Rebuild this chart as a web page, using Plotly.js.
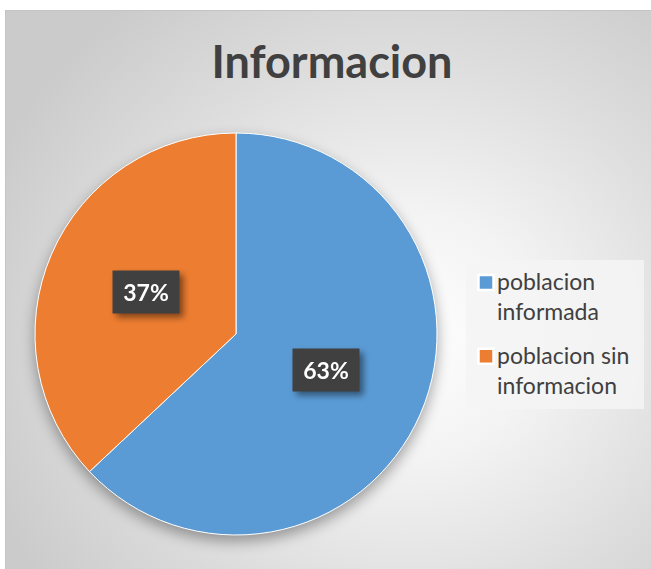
<!DOCTYPE html>
<html>
<head>
<meta charset="utf-8">
<script src="https://cdn.plot.ly/plotly-3.0.1.min.js"></script>
<style>
  html, body { margin:0; padding:0; background:#ffffff; }
  #bg { position:absolute; left:5px; top:10px; width:646px; height:559px; box-sizing:border-box;
        border-left:1px solid #c4c4c4; border-top:1px solid #c4c4c4;
        background: radial-gradient(ellipse 70% 75% at 62% 58%, #ffffff 0%, #f3f3f3 30%, #dedede 65%, #cbcbcb 100%); }
  #chart { position:absolute; left:0; top:0; width:651px; height:569px; }
  #chart .pielayer .trace { filter: drop-shadow(0px 6px 7px rgba(0,0,0,0.35)); }
  #chart g.annotation { filter: drop-shadow(4px 4px 3px rgba(0,0,0,0.45)); }
  #chart .legend .legendtext { transform: translateX(-9px); }
</style>
</head>
<body>
<div id="bg"></div>
<div id="chart"></div>
<script>
const categories = ["poblacion<br>informada", "poblacion sin<br>informacion"];
const values = [63, 37];
const colors = ["#5B9BD5", "#ED7D31"];
const chartTitle = "Informacion";

const W = 651, H = 569;
// pie domain (paper fractions)
const dom = { x: [35 / W, 437 / W], y: [1 - 535 / H, 1 - 133 / H] };

const trace = {
  type: "pie",
  labels: categories,
  values: values,
  marker: { colors: colors, line: { color: "#ffffff", width: 1 } },
  sort: false,
  direction: "clockwise",
  rotation: 0,
  textinfo: "none",
  hoverinfo: "label+percent",
  domain: dom
};

// data labels placed at half radius along each slice's mid-angle
const total = values.reduce((a, b) => a + b, 0);
const cx = (dom.x[0] + dom.x[1]) / 2 * W;
const cy = (1 - (dom.y[0] + dom.y[1]) / 2) * H;
const r = Math.min((dom.x[1] - dom.x[0]) * W, (dom.y[1] - dom.y[0]) * H) / 2;
let cum = 0;
const annotations = values.map(v => {
  const mid = (cum + v / 2) / total * 2 * Math.PI;
  cum += v;
  const px = cx + 0.49 * r * Math.sin(mid);
  const py = cy - 0.49 * r * Math.cos(mid);
  return {
    xref: "paper", yref: "paper",
    x: px / W, y: 1 - (py - 3) / H,
    xanchor: "center", yanchor: "middle",
    text: "<b>" + Math.round(v / total * 100) + "%</b>",
    showarrow: false,
    font: { family: "Lato, sans-serif", size: 23, color: "#ffffff" },
    bgcolor: "#404040",
    width: 64, height: 40
  };
});

const layout = {
  width: W, height: H,
  margin: { l: 0, r: 0, t: 0, b: 0 },
  paper_bgcolor: "rgba(0,0,0,0)",
  plot_bgcolor: "rgba(0,0,0,0)",
  font: { family: "Lato, sans-serif", color: "#404040" },
  title: {
    text: "<b>" + chartTitle + "</b>",
    font: { family: "Lato, sans-serif", size: 45, color: "#404040" },
    x: 332 / W, xanchor: "center",
    y: 1 - 62 / H, yanchor: "middle"
  },
  showlegend: true,
  legend: {
    x: 466 / W, y: 1 - 260 / H, xanchor: "left", yanchor: "top",
    bgcolor: "rgba(244,244,244,0.85)",
    borderwidth: 0,
    font: { family: "Lato, sans-serif", size: 23, color: "#404040" },
    itemsizing: "constant",
    traceorder: "normal"
  },
  annotations: annotations
};

Plotly.newPlot("chart", [trace], layout, { displayModeBar: false, staticPlot: true }).then(gd => {
  // add extra spacing between legend entries (Excel-style gap)
  const gap = 11;
  const items = gd.querySelectorAll(".legend g.traces");
  items.forEach((g, i) => {
    if (i === 0) return;
    const t = g.getAttribute("transform") || "";
    const m = t.match(/translate\(\s*([-\d.]+)[ ,]+([-\d.]+)\s*\)/);
    if (m) g.setAttribute("transform", "translate(" + m[1] + "," + (parseFloat(m[2]) + gap * i) + ")");
  });
  const bg = gd.querySelector(".legend rect.bg");
  if (bg) bg.setAttribute("height", parseFloat(bg.getAttribute("height")) + gap * (items.length - 1) + 2);
  // larger square markers aligned with the first text line
  gd.querySelectorAll(".legend .legendpoints path").forEach(p => {
    const t = p.getAttribute("transform") || "";
    p.setAttribute("transform", t + " translate(0,-14) scale(1.25)");
  });
});
</script>
</body>
</html>
